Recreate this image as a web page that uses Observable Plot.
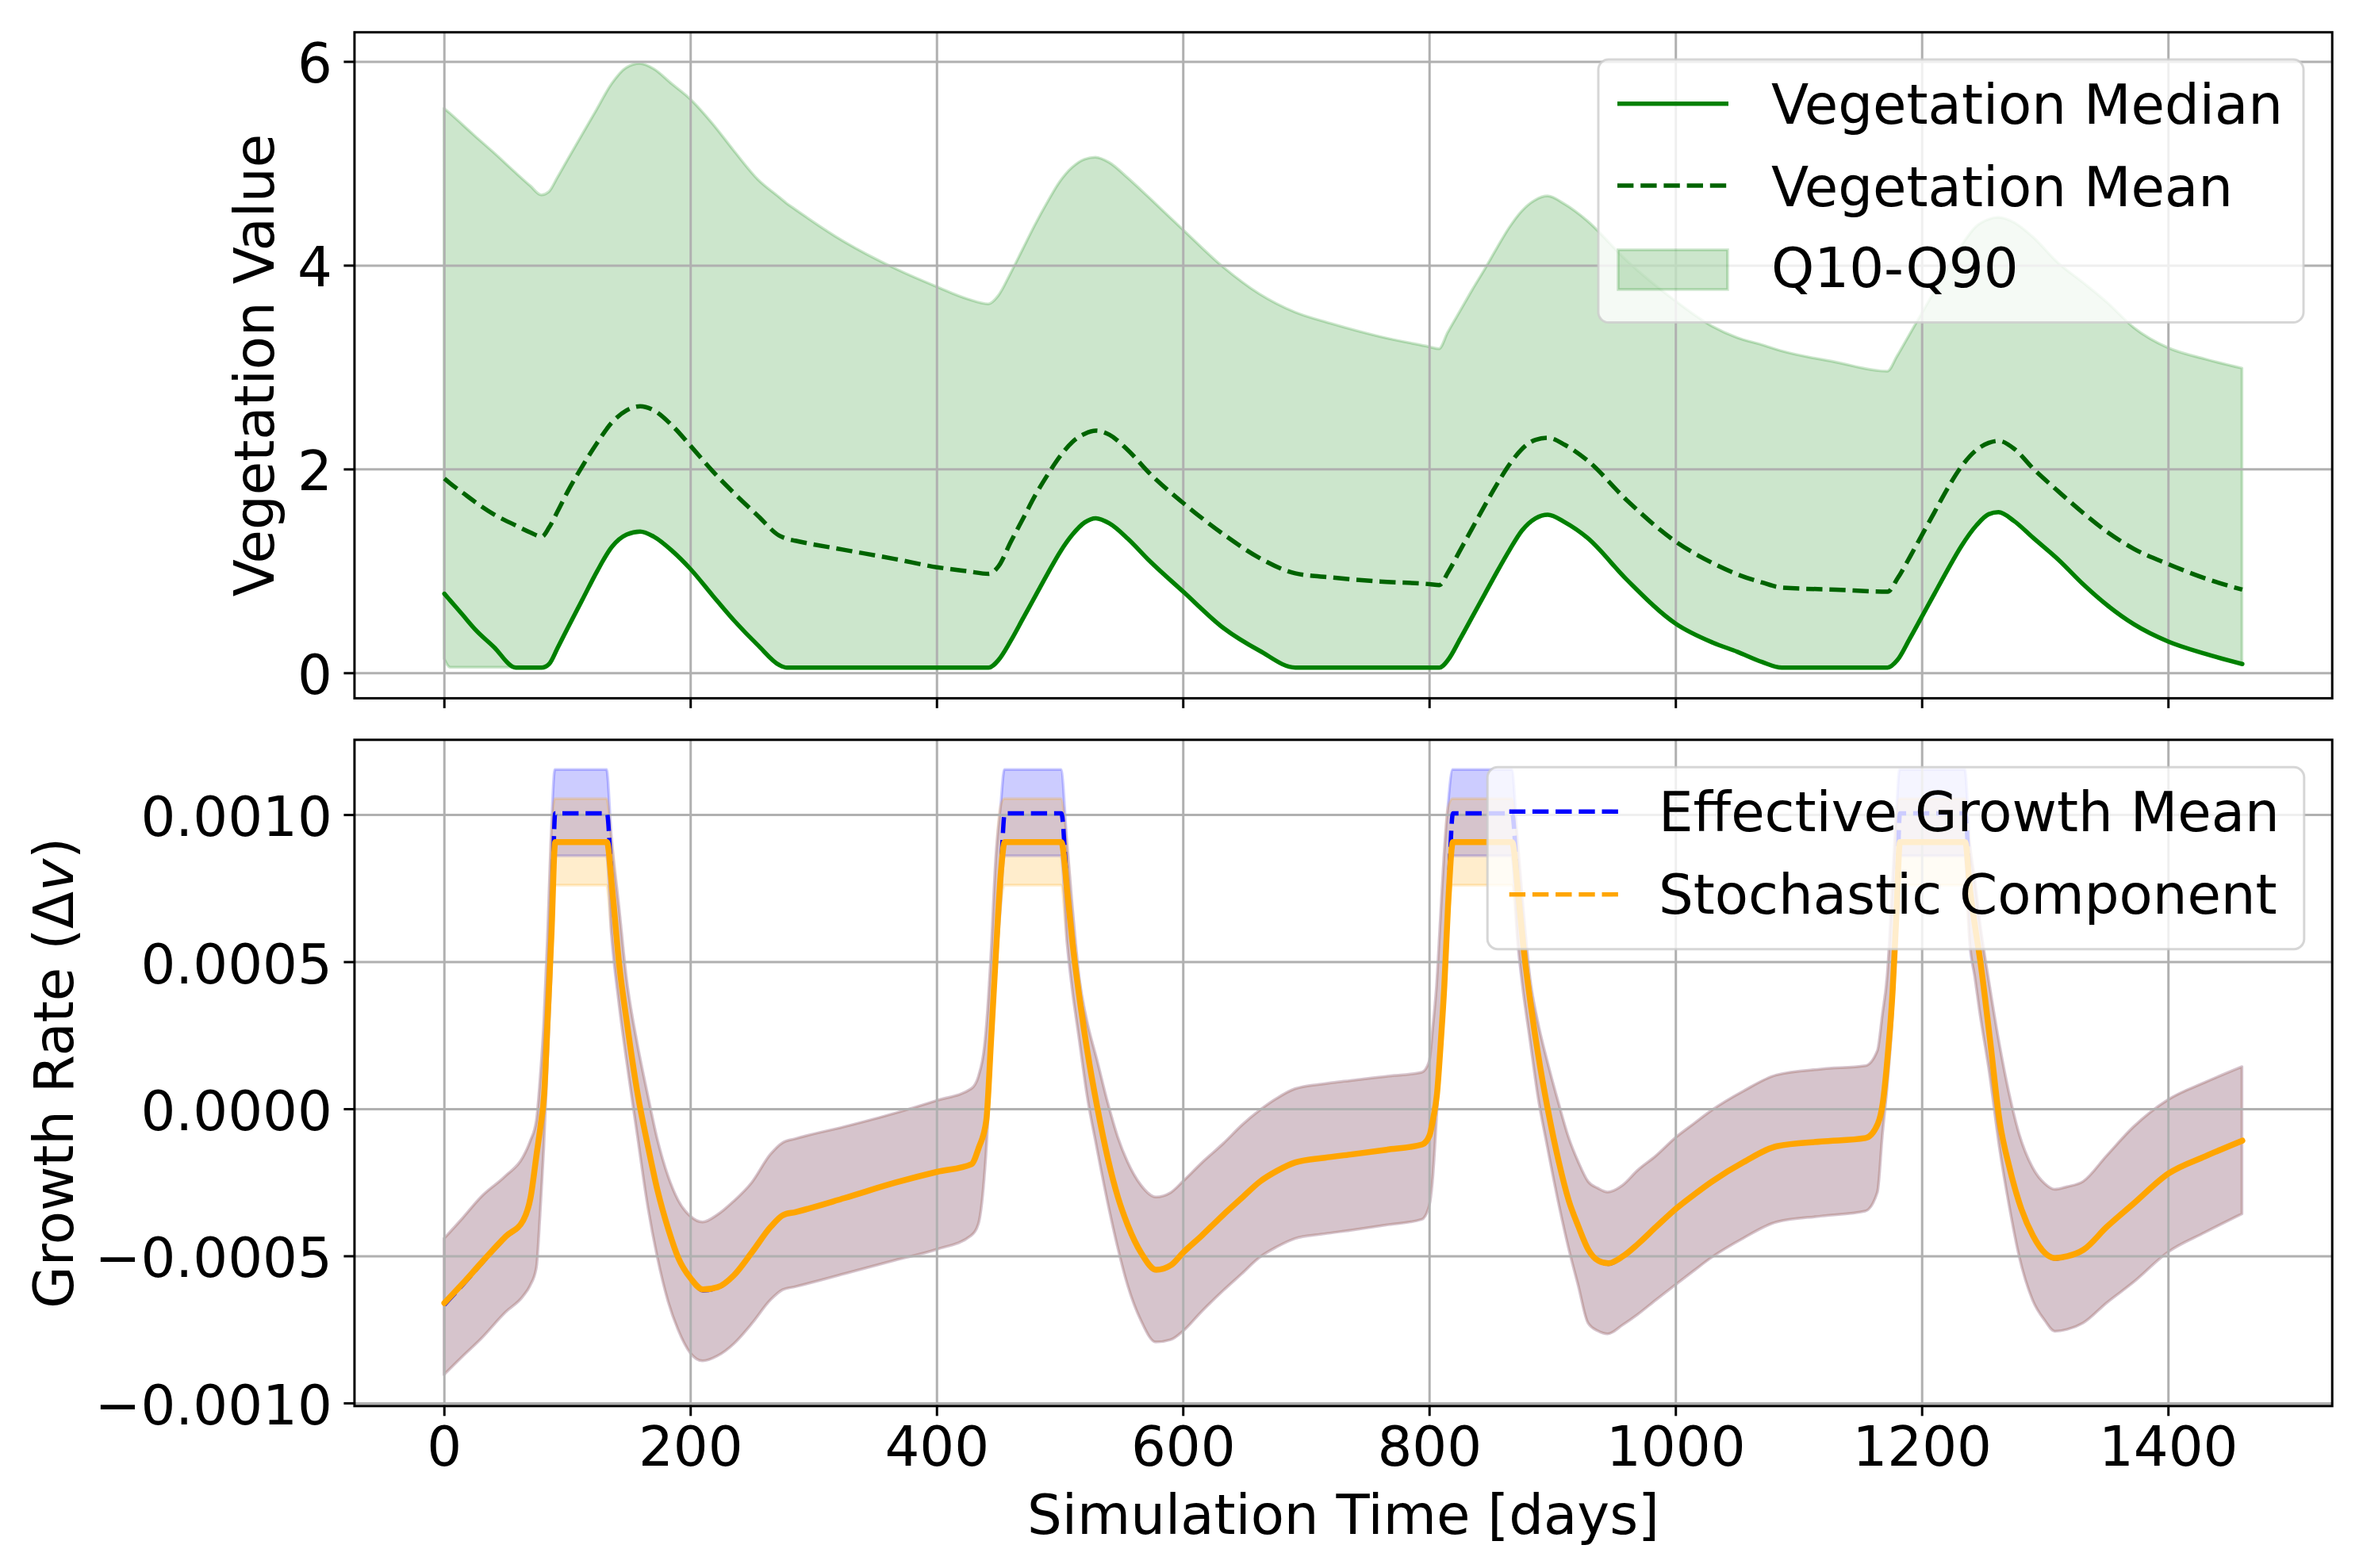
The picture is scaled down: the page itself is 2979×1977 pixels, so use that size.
<!DOCTYPE html>
<html>
<head>
<meta charset="utf-8">
<script src="https://cdn.jsdelivr.net/npm/d3@7"></script>
<script src="https://cdn.jsdelivr.net/npm/@observablehq/plot@0.6"></script>
<style>
html, body { margin: 0; padding: 0; background: #fff; }
#wrap { position: relative; width: 2979px; height: 1977px; overflow: hidden; background: #fff; font-family: "DejaVu Sans"; }
#wrap svg { position: absolute; left: 0; }
</style>
</head>
<body>
<div id="wrap"></div>
<script>
// ---------------- DATA ----------------
const xTicks = [0, 200, 400, 600, 800, 1000, 1200, 1400];
const xDomain = [-73, 1533];
const vegTicks = [0, 2, 4, 6];
const vegDomain = [-0.246, 6.29];
const growthTicks = [-0.001, -0.0005, 0, 0.0005, 0.001];
const growthDomain = [-0.0010092, 0.0012556];

// Top panel: vegetation statistics
const vegDays = [0,5,15,25,40,58,70,79,85,92,
  100,112,124,136,148,159,170,185,200,218,
  235,255,272,278,285,325,366,400,425,442,
  450,460,470,480,490,500,510,520,529,540,
  555,572,600,633,662,691,720,760,800,808,
  815,825,835,845,855,865,875,886,896,910,
  928,960,1000,1030,1050,1070,1086,1130,1172,1180,
  1190,1200,1210,1220,1232,1244,1254,1262,1275,1290,
  1311,1331,1351,1372,1400,1430,1460];
const vegMedian = [.78,.71,.57,.43,.26,.055,.055,.055,.09,.25,
  .44,.72,1.00,1.24,1.36,1.39,1.34,1.20,1.02,.76,
  .52,.27,.08,.055,.055,.055,.055,.055,.055,.055,
  .13,.32,.54,.76,.98,1.19,1.36,1.48,1.52,1.47,
  1.32,1.11,.80,.44,.22,.055,.055,.055,.055,.055,
  .13,.34,.56,.78,1.00,1.21,1.40,1.52,1.556,1.48,
  1.33,.92,.485,.30,.21,.11,.055,.055,.055,.13,
  .34,.56,.78,1.00,1.25,1.45,1.56,1.58,1.49,1.33,
  1.11,.87,.66,.48,.31,.19,.09];
const vegMean = [1.91,1.86,1.77,1.68,1.56,1.45,1.38,1.34,1.43,1.59,
  1.78,2.03,2.26,2.46,2.58,2.62,2.58,2.43,2.23,1.98,
  1.77,1.54,1.35,1.32,1.30,1.21,1.12,1.04,1.00,.975,
  1.05,1.29,1.52,1.75,1.95,2.13,2.27,2.35,2.38,2.34,
  2.19,1.97,1.67,1.36,1.13,.98,.94,.90,.874,.865,
  .99,1.21,1.43,1.65,1.86,2.05,2.20,2.29,2.31,2.24,
  2.09,1.70,1.29,1.08,.97,.89,.84,.82,.80,.93,
  1.14,1.36,1.58,1.80,2.03,2.19,2.26,2.28,2.20,2.01,
  1.78,1.57,1.38,1.22,1.07,.93,.82];
const vegQ10 = [.14,.055,.055,.055,.055,.055,.055,.055,.09,.25,
  .44,.72,1.00,1.24,1.36,1.39,1.34,1.20,1.02,.76,
  .52,.27,.08,.055,.055,.055,.055,.055,.055,.055,
  .13,.32,.54,.76,.98,1.19,1.36,1.48,1.52,1.47,
  1.32,1.11,.80,.44,.22,.055,.055,.055,.055,.055,
  .13,.34,.56,.78,1.00,1.21,1.40,1.52,1.556,1.48,
  1.33,.92,.485,.30,.21,.11,.055,.055,.055,.13,
  .34,.56,.78,1.00,1.25,1.45,1.56,1.58,1.49,1.33,
  1.11,.87,.66,.48,.31,.19,.09];
const vegQ90 = [5.54,5.49,5.38,5.27,5.11,4.91,4.78,4.69,4.72,4.86,
  5.03,5.28,5.53,5.78,5.94,5.98,5.93,5.78,5.63,5.39,
  5.13,4.84,4.67,4.61,4.55,4.23,3.97,3.79,3.67,3.62,
  3.70,3.92,4.16,4.40,4.62,4.82,4.96,5.04,5.06,5.01,
  4.86,4.67,4.35,3.98,3.72,3.54,3.43,3.30,3.20,3.18,
  3.34,3.55,3.76,3.96,4.17,4.37,4.53,4.64,4.68,4.60,
  4.44,4.05,3.65,3.40,3.29,3.22,3.16,3.05,2.96,3.11,
  3.32,3.53,3.74,3.95,4.19,4.38,4.45,4.47,4.42,4.28,
  4.02,3.83,3.63,3.39,3.19,3.08,2.99];

// Bottom panel: growth rates, values in units of 1e-4
const growthUnit = 1e-4;
const growthDays = [0,15,30,50,64,70,75,78,81,84,
  87,90,111,132,136,142,148,157,165,173,
  182,190,200,210,222,235,250,265,275,285,
  325,366,400,428,434,440,444,448,452,455,
  478,501,506,510,516,522,530,539,547,555,
  566,578,590,600,615,633,648,662,676,691,
  715,736,765,794,
  800,803,806,809,812,815,819,843,867,872,
  876,882,888,896,905,913,921,929,937,945,
  957,969,984,1000,1015,1029,1055,1082,1118,1154,
  1164,1168,1172,1176,1179,1182,1208,1235,
  1239,1243,1247,1255,1263,1271,1279,1290,1300,1308,
  1318,1331,1350,1372,1400,1430,1460];
const stochMean = [-6.59,-5.92,-5.22,-4.32,-3.78,-3.00,-1.50,-0.60,0.50,3.20,
  6.00,9.08,9.08,9.08,7.60,4.90,3.00,0.50,-1.20,-2.75,
  -4.10,-5.06,-5.75,-6.13,-6.05,-5.65,-4.85,-4.00,-3.60,-3.50,
  -3.02,-2.50,-2.13,-1.87,-1.30,-0.40,2.40,5.40,8.10,9.08,
  9.08,9.08,7.30,5.68,3.70,2.00,0.10,-1.72,-3.00,-3.95,
  -4.90,-5.46,-5.30,-4.87,-4.30,-3.57,-3.00,-2.47,-2.10,-1.81,
  -1.65,-1.54,-1.38,-1.20,
  -0.89,-0.30,0.50,2.20,4.20,6.90,9.08,9.08,9.08,7.30,
  5.60,3.60,1.90,0.00,-1.80,-3.10,-4.00,-4.78,-5.15,-5.24,
  -5.00,-4.59,-4.00,-3.39,-2.90,-2.47,-1.80,-1.26,-1.10,-0.98,
  -0.50,0.20,1.80,4.00,6.50,9.08,9.08,9.08,
  7.40,6.20,5.10,2.40,-0.43,-2.00,-3.20,-4.30,-4.90,-5.06,
  -5.00,-4.78,-4.00,-3.20,-2.19,-1.60,-1.07];
const stochQ10 = [-9.04,-8.42,-7.82,-6.91,-6.38,-6.00,-5.40,-3.60,-1.35,1.60,
  4.50,7.60,7.60,7.60,5.90,3.60,1.70,-0.90,-3.20,-5.00,
  -6.55,-7.50,-8.30,-8.57,-8.40,-8.00,-7.30,-6.50,-6.15,-6.05,
  -5.61,-5.15,-4.78,-4.31,-3.90,-1.60,1.43,4.60,6.90,7.60,
  7.60,7.60,5.60,4.10,2.30,0.50,-1.30,-3.20,-4.70,-5.98,
  -7.20,-7.93,-7.85,-7.56,-6.90,-6.17,-5.60,-5.06,-4.70,-4.41,
  -4.25,-4.13,-3.95,-3.76,
  -3.30,-2.30,-0.30,1.80,3.60,6.00,7.60,7.60,7.60,5.60,
  4.10,2.30,0.50,-1.30,-3.20,-4.70,-6.00,-7.28,-7.55,-7.65,
  -7.35,-7.00,-6.50,-5.98,-5.50,-5.06,-4.40,-3.85,-3.65,-3.48,
  -2.83,-0.90,0.80,3.00,5.50,7.60,7.60,7.60,
  5.60,4.50,3.30,1.20,-1.30,-3.30,-5.00,-6.50,-7.20,-7.56,
  -7.50,-7.28,-6.60,-5.89,-4.87,-4.20,-3.57];
const stochQ90 = [-4.41,-3.72,-3.00,-2.28,-1.65,-1.10,-0.40,1.00,2.90,5.80,
  9.30,10.54,10.54,10.54,9.20,6.90,4.50,2.20,0.55,-1.00,
  -2.30,-3.10,-3.65,-3.85,-3.60,-3.15,-2.50,-1.55,-1.15,-1.02,
  -0.61,-0.15,0.28,0.68,1.10,2.60,5.13,8.50,10.30,10.54,
  10.54,10.54,9.00,7.00,4.40,3.00,1.70,0.20,-0.95,-1.80,
  -2.60,-3.00,-2.85,-2.47,-1.85,-1.17,-0.55,-0.06,0.35,0.68,
  0.85,0.96,1.10,1.24,
  1.61,2.80,4.20,6.40,8.60,10.20,10.54,10.54,10.54,9.00,
  7.00,4.40,3.00,1.60,0.20,-0.95,-1.80,-2.47,-2.70,-2.83,
  -2.60,-2.10,-1.60,-0.98,-0.50,-0.06,0.60,1.15,1.35,1.46,
  1.98,3.20,4.57,7.50,9.80,10.54,10.54,10.54,
  9.00,7.80,6.40,4.20,2.20,0.50,-0.85,-2.00,-2.55,-2.74,
  -2.65,-2.47,-1.60,-0.61,0.31,0.90,1.43];
const effMean = [-6.65,-5.96,-5.25,-4.34,-3.79,-3.00,-1.50,-0.60,0.50,3.20,
  6.00,10.06,10.06,10.06,7.60,4.90,3.00,0.50,-1.20,-2.75,
  -4.10,-5.06,-5.75,-6.16,-6.07,-5.65,-4.85,-4.00,-3.60,-3.50,
  -3.02,-2.50,-2.13,-1.87,-1.30,-0.40,2.40,5.40,8.10,10.06,
  10.06,10.06,7.30,5.68,3.70,2.00,0.10,-1.72,-3.00,-3.95,
  -4.90,-5.48,-5.30,-4.87,-4.30,-3.57,-3.00,-2.47,-2.10,-1.81,
  -1.65,-1.54,-1.38,-1.20,
  -0.89,-0.30,0.50,2.20,4.20,6.90,10.06,10.06,10.06,7.30,
  5.60,3.60,1.90,0.00,-1.80,-3.10,-4.00,-4.78,-5.15,-5.26,
  -5.00,-4.59,-4.00,-3.39,-2.90,-2.47,-1.80,-1.26,-1.10,-0.98,
  -0.50,0.20,1.80,4.00,6.50,10.06,10.06,10.06,
  7.40,6.20,5.10,2.40,-0.43,-2.00,-3.20,-4.30,-4.90,-5.08,
  -5.00,-4.78,-4.00,-3.20,-2.19,-1.60,-1.07];
const effQ10 = [-9.04,-8.42,-7.82,-6.91,-6.38,-6.00,-5.40,-3.60,-1.35,1.60,
  4.50,8.60,8.60,8.60,5.90,3.60,1.70,-0.90,-3.20,-5.00,
  -6.55,-7.50,-8.30,-8.57,-8.40,-8.00,-7.30,-6.50,-6.15,-6.05,
  -5.61,-5.15,-4.78,-4.31,-3.90,-1.60,1.43,4.60,6.90,8.60,
  8.60,8.60,5.60,4.10,2.30,0.50,-1.30,-3.20,-4.70,-5.98,
  -7.20,-7.93,-7.85,-7.56,-6.90,-6.17,-5.60,-5.06,-4.70,-4.41,
  -4.25,-4.13,-3.95,-3.76,
  -3.30,-2.30,-0.30,1.80,3.60,6.00,8.60,8.60,8.60,5.60,
  4.10,2.30,0.50,-1.30,-3.20,-4.70,-6.00,-7.28,-7.55,-7.65,
  -7.35,-7.00,-6.50,-5.98,-5.50,-5.06,-4.40,-3.85,-3.65,-3.48,
  -2.83,-0.90,0.80,3.00,5.50,8.60,8.60,8.60,
  5.60,4.50,3.30,1.20,-1.30,-3.30,-5.00,-6.50,-7.20,-7.56,
  -7.50,-7.28,-6.60,-5.89,-4.87,-4.20,-3.57];
const effQ90 = [-4.41,-3.72,-3.00,-2.28,-1.65,-1.10,-0.40,1.00,2.90,5.80,
  9.30,11.53,11.53,11.53,9.20,6.90,4.50,2.20,0.55,-1.00,
  -2.30,-3.10,-3.65,-3.85,-3.60,-3.15,-2.50,-1.55,-1.15,-1.02,
  -0.61,-0.15,0.28,0.68,1.10,2.60,5.13,8.50,10.30,11.53,
  11.53,11.53,9.00,7.00,4.40,3.00,1.70,0.20,-0.95,-1.80,
  -2.60,-3.00,-2.85,-2.47,-1.85,-1.17,-0.55,-0.06,0.35,0.68,
  0.85,0.96,1.10,1.24,
  1.61,2.80,4.20,6.40,8.60,10.20,11.53,11.53,11.53,9.00,
  7.00,4.40,3.00,1.60,0.20,-0.95,-1.80,-2.47,-2.70,-2.83,
  -2.60,-2.10,-1.60,-0.98,-0.50,-0.06,0.60,1.15,1.35,1.46,
  1.98,3.20,4.57,7.50,9.80,11.53,11.53,11.53,
  9.00,7.80,6.40,4.20,2.20,0.50,-0.85,-2.00,-2.55,-2.74,
  -2.65,-2.47,-1.60,-0.61,0.31,0.90,1.43];

const topLegendLabels = ["Vegetation Median", "Vegetation Mean", "Q10-Q90"];
const bottomLegendLabels = ["Effective Growth Mean", "Stochastic Component"];
const vegYLabel = "Vegetation Value";
const growthYLabel = "Growth Rate (Δv)";
const xLabel = "Simulation Time [days]";

// ---------------- RENDER ----------------
const W = 2979, H = 1977;
const FS = 69;
const FONT = "DejaVu Sans";
const FRAME_L = 446.4, FRAME_R = 2939.7;
const LW = 5.5;
const DASH = "20.4,8.8";
const gridStyle = {stroke: "#b0b0b0", strokeOpacity: 1, strokeWidth: 3};
const plotStyle = {fontFamily: FONT, fontSize: FS + "px", background: "transparent", color: "black", overflow: "visible"};

const vegRows = vegDays.map((d, i) => ({day: d, median: vegMedian[i], mean: vegMean[i], q10: vegQ10[i], q90: vegQ90[i]}));
const growthRows = growthDays.map((d, i) => ({
  day: d,
  sto: stochMean[i] * growthUnit, stoLo: stochQ10[i] * growthUnit, stoHi: stochQ90[i] * growthUnit,
  eff: effMean[i] * growthUnit, effLo: effQ10[i] * growthUnit, effHi: effQ90[i] * growthUnit
}));

const fmtGrowth = d3.format(".4f");

const topPlot = Plot.plot({
  width: W, height: 900,
  marginLeft: FRAME_L, marginRight: W - FRAME_R, marginTop: 40.2, marginBottom: 20.1,
  x: {domain: xDomain, axis: null},
  y: {domain: vegDomain, axis: null},
  style: plotStyle,
  marks: [
    Plot.areaY(vegRows, {x: "day", y1: "q10", y2: "q90", fill: "green", fillOpacity: 0.2, stroke: "green", strokeOpacity: 0.2, strokeWidth: 3.5, curve: "monotone-x"}),
    Plot.gridX(xTicks, gridStyle),
    Plot.gridY(vegTicks, gridStyle),
    Plot.line(vegRows, {x: "day", y: "median", stroke: "green", strokeWidth: LW, curve: "monotone-x"}),
    Plot.line(vegRows, {x: "day", y: "mean", stroke: "darkgreen", strokeWidth: LW, strokeDasharray: DASH, strokeLinecap: "butt", curve: "monotone-x"}),
    Plot.frame({stroke: "black", strokeWidth: 3}),
    Plot.axisX(xTicks, {anchor: "bottom", tickSize: 13, strokeWidth: 3, fill: "none", label: null}),
    Plot.axisY(vegTicks, {anchor: "left", tickSize: 13, strokeWidth: 3, fill: "none", label: null}),
    Plot.text(vegTicks, {y: d => d, frameAnchor: "left", dx: -28, dy: 26.5, textAnchor: "end", lineAnchor: "bottom", text: d => String(d), fill: "black"}),
    Plot.text([vegYLabel], {frameAnchor: "left", dx: -101.5, rotate: -90, textAnchor: "middle", lineAnchor: "bottom", text: d => d, fill: "black"})
  ]
});

const bottomPlot = Plot.plot({
  width: W, height: 1077,
  marginLeft: FRAME_L, marginRight: W - FRAME_R, marginTop: 32.3, marginBottom: 204.7,
  x: {domain: xDomain, axis: null},
  y: {domain: growthDomain, axis: null},
  style: plotStyle,
  marks: [
    Plot.areaY(growthRows, {x: "day", y1: "effLo", y2: "effHi", fill: "blue", fillOpacity: 0.2, stroke: "blue", strokeOpacity: 0.2, strokeWidth: 3.5, curve: "monotone-x"}),
    Plot.areaY(growthRows, {x: "day", y1: "stoLo", y2: "stoHi", fill: "orange", fillOpacity: 0.2, stroke: "orange", strokeOpacity: 0.2, strokeWidth: 3.5, curve: "monotone-x"}),
    Plot.gridX(xTicks, gridStyle),
    Plot.gridY(growthTicks, gridStyle),
    Plot.line(growthRows, {x: "day", y: "eff", stroke: "blue", strokeWidth: LW, strokeDasharray: DASH, strokeLinecap: "butt", curve: "monotone-x"}),
    Plot.line(growthRows, {x: "day", y: "sto", stroke: "orange", strokeWidth: 7.5, curve: "monotone-x"}),
    Plot.frame({stroke: "black", strokeWidth: 3}),
    Plot.axisX(xTicks, {anchor: "bottom", tickSize: 13, tickPadding: 13.5, strokeWidth: 3, fill: "black", tickFormat: d => String(d), label: null}),
    Plot.axisY(growthTicks, {anchor: "left", tickSize: 13, strokeWidth: 3, fill: "none", label: null}),
    Plot.text(growthTicks, {y: d => d, frameAnchor: "left", dx: -28, dy: 26.5, textAnchor: "end", lineAnchor: "bottom", text: d => fmtGrowth(d), fill: "black"}),
    Plot.text([growthYLabel], {frameAnchor: "left", dx: -354.6, rotate: -90, textAnchor: "middle", lineAnchor: "bottom", text: d => d, fill: "black"}),
    Plot.text([xLabel], {frameAnchor: "bottom", dy: 161.4, textAnchor: "middle", lineAnchor: "bottom", text: d => d, fill: "black"})
  ]
});

const wrap = document.getElementById("wrap");
topPlot.style.top = "0px";
bottomPlot.style.top = "900px";
wrap.appendChild(topPlot);
wrap.appendChild(bottomPlot);

// italic v in the growth label (matplotlib mathtext style)
d3.select(bottomPlot).selectAll("text").each(function () {
  if (this.textContent === growthYLabel) {
    const el = d3.select(this);
    el.text(null);
    el.append("tspan").text("Growth Rate (Δ");
    el.append("tspan").attr("font-style", "italic").text("v");
    el.append("tspan").text(")");
  }
});

// ---------------- LEGENDS ----------------
const ov = d3.select(wrap).append("svg")
  .attr("width", W).attr("height", H)
  .style("top", "0px").style("pointer-events", "none")
  .attr("font-family", FONT).attr("font-size", FS);

function legendBox(x, y, w, h) {
  ov.append("rect").attr("x", x).attr("y", y).attr("width", w).attr("height", h)
    .attr("rx", 13).attr("ry", 13)
    .attr("fill", "white").attr("fill-opacity", 0.8)
    .attr("stroke", "#cccccc").attr("stroke-opacity", 0.8).attr("stroke-width", 3);
}

// top legend
legendBox(2015, 75, 889, 331.5);
ov.append("line").attr("x1", 2039).attr("x2", 2179).attr("y1", 130.8).attr("y2", 130.8)
  .attr("stroke", "green").attr("stroke-width", LW);
ov.append("line").attr("x1", 2039).attr("x2", 2179).attr("y1", 234).attr("y2", 234)
  .attr("stroke", "darkgreen").attr("stroke-width", LW).attr("stroke-dasharray", DASH);
ov.append("rect").attr("x", 2040).attr("y", 315).attr("width", 138).attr("height", 50)
  .attr("fill", "green").attr("fill-opacity", 0.2).attr("stroke", "green").attr("stroke-opacity", 0.2).attr("stroke-width", 3.5);
[156, 260, 362].forEach((by, i) => {
  ov.append("text").attr("x", 2233).attr("y", by).attr("fill", "black").text(topLegendLabels[i]);
});

// bottom legend
legendBox(1875.2, 967.3, 1029.6, 229.4);
ov.append("line").attr("x1", 1902.7).attr("x2", 2040.4).attr("y1", 1023.3).attr("y2", 1023.3)
  .attr("stroke", "blue").attr("stroke-width", LW).attr("stroke-dasharray", DASH);
ov.append("line").attr("x1", 1902.7).attr("x2", 2040.4).attr("y1", 1127.7).attr("y2", 1127.7)
  .attr("stroke", "orange").attr("stroke-width", LW).attr("stroke-dasharray", DASH);
[1048.3, 1151.7].forEach((by, i) => {
  ov.append("text").attr("x", 2091).attr("y", by).attr("fill", "black").text(bottomLegendLabels[i]);
});
</script>
</body>
</html>
